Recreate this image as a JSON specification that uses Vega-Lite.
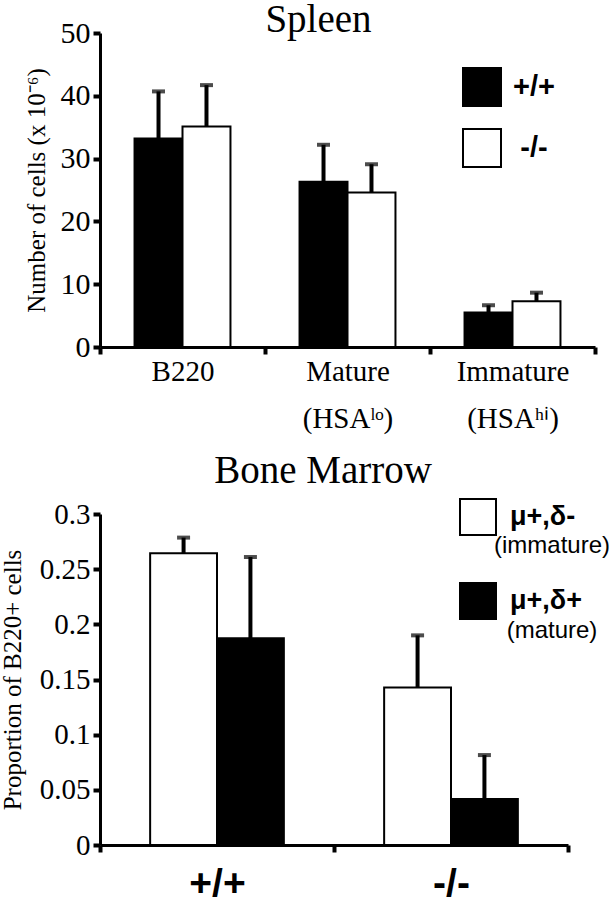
{
  "$schema": "https://vega.github.io/schema/vega-lite/v6.json",
  "padding": {"left": 0, "top": 1, "right": 0, "bottom": 0},
  "background": "white",
  "spacing": 19,
  "config": {"view": {"stroke": null}, "font": "Liberation Serif"},
  "datasets": {
    "spleen": [
      {"group": "B220", "genotype": "+/+", "value": 33.2, "upper": 40.7},
      {"group": "B220", "genotype": "-/-", "value": 35.1, "upper": 41.7},
      {"group": "Mature|(HSAˡᵒ)", "genotype": "+/+", "value": 26.3, "upper": 32.2},
      {"group": "Mature|(HSAˡᵒ)", "genotype": "-/-", "value": 24.6, "upper": 29.1},
      {"group": "Immature|(HSAʰⁱ)", "genotype": "+/+", "value": 5.5, "upper": 6.65},
      {"group": "Immature|(HSAʰⁱ)", "genotype": "-/-", "value": 7.3, "upper": 8.65}
    ],
    "marrow": [
      {"mouse": "+/+", "cell": "μ+,δ-", "stage": "(immature)", "prop": 0.2645, "upper": 0.2786},
      {"mouse": "+/+", "cell": "μ+,δ+", "stage": "(mature)", "prop": 0.1875, "upper": 0.261},
      {"mouse": "-/-", "cell": "μ+,δ-", "stage": "(immature)", "prop": 0.1428, "upper": 0.190},
      {"mouse": "-/-", "cell": "μ+,δ+", "stage": "(mature)", "prop": 0.0417, "upper": 0.0815}
    ]
  },
  "resolve": {
    "scale": {"x": "independent", "y": "independent", "xOffset": "independent", "fill": "independent", "opacity": "independent"},
    "legend": {"fill": "independent", "opacity": "independent"},
    "axis": {"x": "independent", "y": "independent"}
  },
  "vconcat": [
    {
      "width": 495,
      "height": 314,
      "title": {"text": "Spleen", "font": "Liberation Serif", "fontSize": 39, "fontWeight": "normal", "color": "black", "anchor": "middle", "frame": "group", "baseline": "alphabetic", "dx": -29, "offset": -53},
      "data": {"name": "spleen"},
      "encoding": {
        "x": {
          "field": "group", "type": "nominal",
          "sort": ["B220", "Mature|(HSAˡᵒ)", "Immature|(HSAʰⁱ)"],
          "scale": {"paddingInner": 0, "paddingOuter": 0},
          "axis": {
            "title": null, "labelAngle": 0, "tickBand": "extent",
            "labelExpr": "split(datum.label, '|')",
            "labelFont": "Liberation Serif", "labelFontSize": 29, "labelColor": "black", "labelLineHeight": 47,
            "labelPadding": 3, "labelBaseline": "top",
            "domainColor": "black", "domainWidth": 3, "tickColor": "black", "tickWidth": 4, "tickSize": 7,
            "encode": {"ticks": {"y": {"value": -6}}}
          }
        },
        "xOffset": {"field": "genotype", "type": "nominal", "sort": ["+/+", "-/-"], "scale": {"paddingInner": 0, "paddingOuter": 0.72}}
      },
      "layer": [
        {
          "mark": {"type": "bar", "stroke": "black", "strokeWidth": 2},
          "encoding": {
            "y": {
              "field": "value", "type": "quantitative", "scale": {"domain": [0, 50], "nice": false},
              "axis": {
                "title": "Number of cells (x 10⁻⁶)", "values": [0, 10, 20, 30, 40, 50], "grid": false,
                "domainColor": "black", "domainWidth": 3, "tickColor": "black", "tickWidth": 4, "tickSize": 7,
                "labelFont": "Liberation Serif", "labelFontSize": 30, "labelColor": "black", "labelPadding": 3,
                "titleFont": "Liberation Serif", "titleFontSize": 25, "titleFontWeight": "normal", "titleColor": "black", "titlePadding": 11,
                "encode": {"ticks": {"x": {"value": 7}}}
              }
            },
            "fill": {
              "field": "genotype", "type": "nominal",
              "scale": {"domain": ["+/+", "-/-"], "range": ["black", "white"]},
              "legend": {
                "title": null, "orient": "none", "legendX": 362, "legendY": 34,
                "symbolType": "square", "symbolSize": 1444, "symbolStrokeColor": "black", "symbolStrokeWidth": 2,
                "labelFont": "Liberation Sans", "labelFontWeight": "bold", "labelFontSize": 29, "labelColor": "black",
                "labelAlign": "center", "labelOffset": 32, "rowPadding": 15
              }
            }
          }
        },
        {
          "mark": {"type": "rule", "color": "black", "strokeWidth": 4},
          "encoding": {
            "y": {"field": "value", "type": "quantitative"},
            "y2": {"field": "upper"}
          }
        },
        {
          "mark": {"type": "tick", "color": "black", "thickness": 4, "size": 13},
          "encoding": {
            "y": {"field": "upper", "type": "quantitative"}
          }
        }
      ]
    },
    {
      "width": 468,
      "height": 331,
      "title": {"text": "Bone Marrow", "font": "Liberation Serif", "fontSize": 39, "fontWeight": "normal", "color": "black", "anchor": "middle", "frame": "group", "baseline": "alphabetic", "dx": -11, "offset": -24},
      "data": {"name": "marrow"},
      "encoding": {
        "x": {
          "field": "mouse", "type": "nominal", "sort": ["+/+", "-/-"],
          "scale": {"paddingInner": 0, "paddingOuter": 0},
          "axis": {
            "title": null, "labelAngle": 0, "tickBand": "extent",
            "labelFont": "Liberation Sans", "labelFontWeight": "bold", "labelFontSize": 39, "labelColor": "black",
            "labelPadding": 12, "labelBaseline": "top",
            "domainColor": "black", "domainWidth": 3, "tickColor": "black", "tickWidth": 4, "tickSize": 7,
            "encode": {"ticks": {"y": {"value": -6}}}
          }
        },
        "xOffset": {"field": "cell", "type": "nominal", "sort": ["μ+,δ-", "μ+,δ+"], "scale": {"paddingInner": 0, "paddingOuter": 0.75}}
      },
      "layer": [
        {
          "mark": {"type": "bar", "stroke": "black", "strokeWidth": 2},
          "encoding": {
            "y": {
              "field": "prop", "type": "quantitative", "scale": {"domain": [0, 0.3], "nice": false},
              "axis": {
                "title": "Proportion of B220+ cells", "values": [0, 0.05, 0.1, 0.15, 0.2, 0.25, 0.3], "grid": false,
                "labelExpr": "datum.value == 0 ? '0' : replace(format(datum.value, '.2~f'), /^0?/, '0')",
                "domainColor": "black", "domainWidth": 3, "tickColor": "black", "tickWidth": 4, "tickSize": 7,
                "labelFont": "Liberation Serif", "labelFontSize": 29, "labelColor": "black", "labelPadding": 3,
                "titleFont": "Liberation Serif", "titleFontSize": 25, "titleFontWeight": "normal", "titleColor": "black", "titlePadding": 14,
                "encode": {"ticks": {"x": {"value": 7}}}
              }
            },
            "fill": {
              "field": "cell", "type": "nominal",
              "scale": {"domain": ["μ+,δ-", "μ+,δ+"], "range": ["white", "black"]},
              "legend": {
                "title": null, "orient": "none", "legendX": 359, "legendY": -16,
                "symbolType": "square", "symbolSize": 1296, "symbolStrokeColor": "black", "symbolStrokeWidth": 2,
                "labelFont": "Liberation Sans", "labelFontWeight": "bold", "labelFontSize": 27, "labelColor": "black",
                "labelOffset": 13, "rowPadding": 40
              }
            },
            "opacity": {
              "field": "stage", "type": "ordinal",
              "scale": {"domain": ["(immature)", "(mature)"], "range": [1, 1]},
              "legend": {
                "title": null, "orient": "none", "legendX": 359, "legendY": 14,
                "symbolType": "M0,0", "symbolSize": 1296,
                "symbolFillColor": "transparent", "symbolStrokeColor": "transparent", "symbolStrokeWidth": 0,
                "labelFont": "Liberation Sans", "labelFontSize": 24, "labelColor": "black",
                "labelAlign": "center", "labelOffset": 57, "rowPadding": 55
              }
            }
          }
        },
        {
          "mark": {"type": "rule", "color": "black", "strokeWidth": 4},
          "encoding": {
            "y": {"field": "prop", "type": "quantitative"},
            "y2": {"field": "upper"}
          }
        },
        {
          "mark": {"type": "tick", "color": "black", "thickness": 4, "size": 13},
          "encoding": {
            "y": {"field": "upper", "type": "quantitative"}
          }
        }
      ]
    }
  ]
}
